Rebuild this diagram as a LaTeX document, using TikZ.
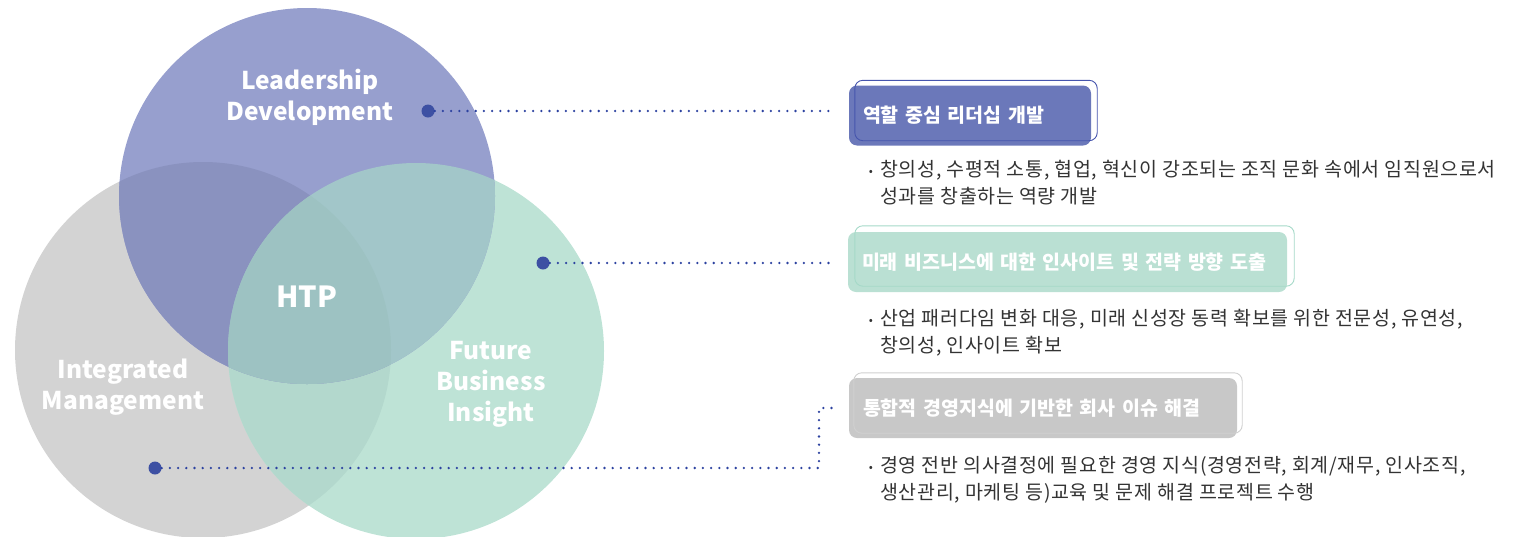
\documentclass[tikz,border=0pt]{standalone}
\usepackage{fontspec}
\setmainfont{Noto Sans CJK KR}
\newfontfamily\spacedfont{Noto Sans CJK KR}[LetterSpace=3.5]

\definecolor{topC}{HTML}{979FCE}
\definecolor{grayC}{HTML}{D3D3D3}
\definecolor{greenC}{HTML}{BEE3D6}
\definecolor{tgC}{HTML}{8A92BF}
\definecolor{gfC}{HTML}{B3D8CD}
\definecolor{tfC}{HTML}{A2C6C9}
\definecolor{allC}{HTML}{9DC2C2}
\definecolor{hubC}{HTML}{3D50A3}
\definecolor{leadC}{HTML}{2C42A0}
\definecolor{boxLfill}{HTML}{6B78BA}
\definecolor{boxLline}{HTML}{4655AD}
\definecolor{boxFfill}{HTML}{BAE0D3}
\definecolor{boxFline}{HTML}{A5D9C8}
\definecolor{boxIfill}{HTML}{C8C8C8}
\definecolor{boxIline}{HTML}{D0D0D0}
\definecolor{descC}{HTML}{333333}

\tikzset{
  venntext/.style={text=white, align=center, font=\bfseries\fontsize{24.5}{31}\selectfont},
  hub/.style={circle, fill=hubC, inner sep=0pt, minimum size=13pt},
  leader/.style={leadC, line width=2.6pt, line cap=round, dash pattern=on 0pt off 8.2pt},
  titlebox/.style={rounded corners=8pt, minimum height=60pt, inner xsep=14pt, inner ysep=0pt,
    text=white, align=left, font=\bfseries\fontsize{19.5}{22}\selectfont},
  frame/.style={rounded corners=8pt, line width=0.9pt},
  desc/.style={text=descC, align=left, inner sep=0pt, font=\spacedfont\fontsize{19.5}{27}\selectfont},
  bulletmark/.style={text=descC, inner sep=0pt, font=\fontsize{12}{12}\selectfont}
}

\begin{document}
\begin{tikzpicture}[x=1pt, y=-1pt]

  \useasboundingbox (0,0) rectangle (1520,536);

  % --- 1. 벤 다이어그램 ---
  \def\rr{188pt}
  \coordinate (cT) at (307,196);
  \coordinate (cG) at (203,350);
  \coordinate (cF) at (416,351);

  \fill[grayC] (cG) circle (\rr);
  \fill[greenC] (cF) circle (\rr);
  \begin{scope}
    \clip (cG) circle (\rr);
    \fill[gfC] (cF) circle (\rr);
  \end{scope}
  \fill[topC] (cT) circle (\rr);
  \begin{scope}
    \clip (cT) circle (\rr);
    \fill[tgC] (cG) circle (\rr);
  \end{scope}
  \begin{scope}
    \clip (cT) circle (\rr);
    \fill[tfC] (cF) circle (\rr);
  \end{scope}
  \begin{scope}
    \clip (cT) circle (\rr);
    \clip (cG) circle (\rr);
    \fill[allC] (cF) circle (\rr);
  \end{scope}

  \node[venntext] (lblL) at (310,97) {Leadership\\Development};
  \node[venntext] (lblI) at (123,387) {Integrated\\Management};
  \node[venntext] (lblF) at (491,384) {Future\\Business\\Insight};
  \node[venntext, font=\bfseries\fontsize{29}{31}\selectfont] (htp) at (307,297) {HTP};

  % --- 2. 점선 연결 ---
  \node[hub] (dotL) at (428,111) {};
  \node[hub] (dotF) at (543,263) {};
  \node[hub] (dotI) at (155,468) {};

  \coordinate (endL) at (835,111);
  \coordinate (endF) at (835,263);
  \coordinate (turnI) at (819,468);
  \coordinate (endI) at (833,408);

  \draw[leader] (dotL) -- (endL);
  \draw[leader] (dotF) -- (endF);
  \draw[leader] (dotI) -- (turnI) |- (endI);

  % --- 3. 제목 상자 ---
  \node[titlebox, fill=boxLfill, minimum width=242pt, text width=214pt] (boxL) at (970,115.5) {역할 중심 리더십 개발};
  \draw[frame, boxLline] ([shift={(6pt,5pt)}]boxL.south west) rectangle ([shift={(6pt,5pt)}]boxL.north east);

  \node[titlebox, fill=boxFfill, minimum width=439pt, text width=411pt] (boxF) at (1067.5,262) {미래 비즈니스에 대한 인사이트 및 전략 방향 도출};
  \draw[frame, boxFline] ([shift={(7pt,6pt)}]boxF.south west) rectangle ([shift={(7pt,6pt)}]boxF.north east);

  \node[titlebox, fill=boxIfill, minimum width=388pt, text width=360pt] (boxI) at (1043,408) {통합적 경영지식에 기반한 회사 이슈 해결};
  \draw[frame, boxIline] ([shift={(5pt,5pt)}]boxI.south west) rectangle ([shift={(5pt,5pt)}]boxI.north east);

  % --- 4. 설명 ---
  \node[bulletmark] (bulL) at (871,173) {•};
  \node[desc, anchor=north west] (descL) at (880,160)
    {창의성, 수평적 소통, 협업, 혁신이 강조되는 조직 문화 속에서 임직원으로서\\성과를 창출하는 역량 개발};

  \node[bulletmark] (bulF) at (871,322) {•};
  \node[desc, anchor=north west] (descF) at (880,309)
    {산업 패러다임 변화 대응, 미래 신성장 동력 확보를 위한 전문성, 유연성,\\창의성, 인사이트 확보};

  \node[bulletmark] (bulI) at (871,469) {•};
  \node[desc, anchor=north west] (descI) at (880,456)
    {경영 전반 의사결정에 필요한 경영 지식(경영전략, 회계/재무, 인사조직,\\생산관리, 마케팅 등)교육 및 문제 해결 프로젝트 수행};

\end{tikzpicture}
\end{document}
